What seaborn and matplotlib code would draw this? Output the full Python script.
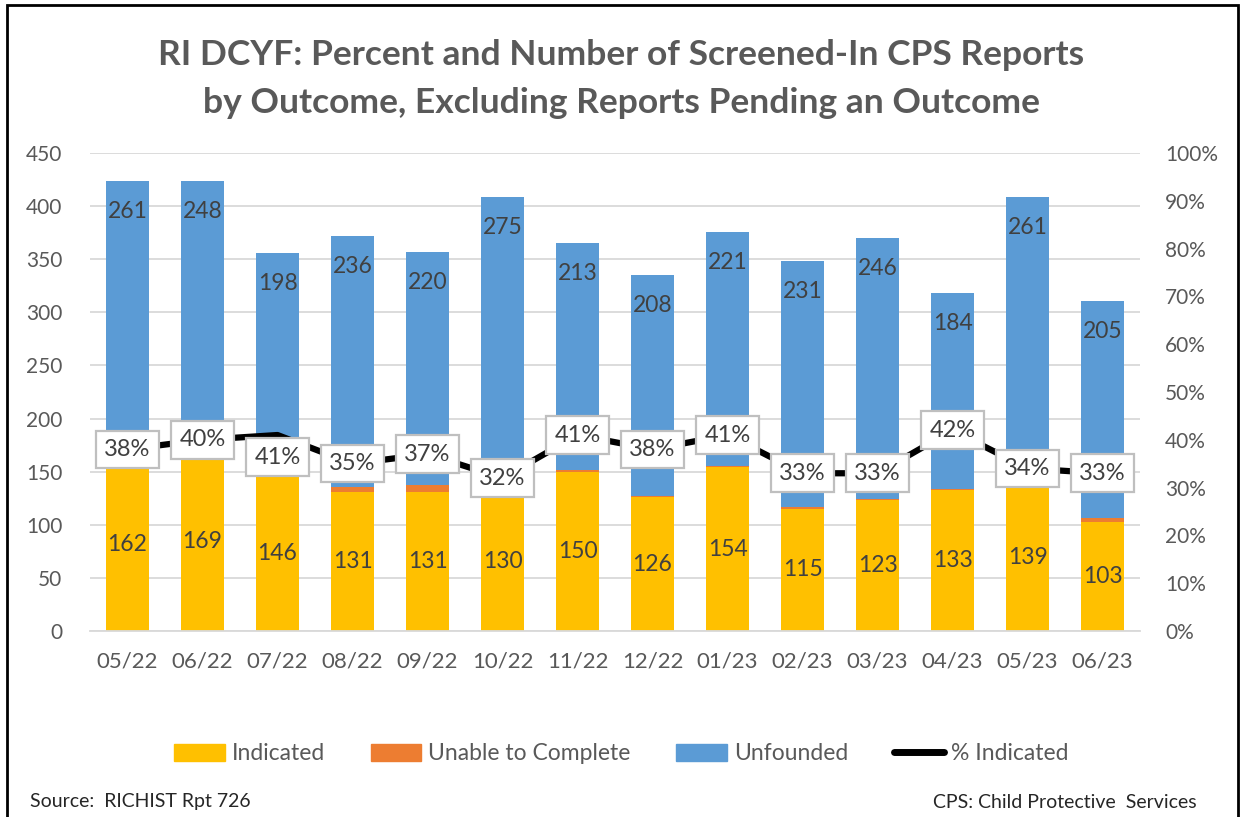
import numpy as np
import pandas as pd
import seaborn as sns
import matplotlib.pyplot as plt
from matplotlib.patches import Patch, Rectangle
from matplotlib.lines import Line2D

months = ['05/22', '06/22', '07/22', '08/22', '09/22', '10/22', '11/22',
          '12/22', '01/23', '02/23', '03/23', '04/23', '05/23', '06/23']
indicated = [162, 169, 146, 131, 131, 130, 150, 126, 154, 115, 123, 133, 139, 103]
unable = [1, 7, 12, 5, 6, 4, 2, 1, 1, 2, 1, 1, 9, 3]
unfounded = [261, 248, 198, 236, 220, 275, 213, 208, 221, 231, 246, 184, 261, 205]
pct_indicated = [38, 40, 41, 35, 37, 32, 41, 38, 41, 33, 33, 42, 34, 33]

YELLOW = '#FFC000'
ORANGE = '#ED7D31'
BLUE = '#5B9BD5'
GRAY = '#595959'
DARK = '#404040'

df = pd.DataFrame({'month': months, 'ind': indicated, 'unable': unable,
                   'unf': unfounded, 'pct': pct_indicated})
df['ind_unable'] = df['ind'] + df['unable']
df['total'] = df['ind_unable'] + df['unf']

sns.set_style('white')
plt.rcParams['font.family'] = ['Lato', 'DejaVu Sans']

fig = plt.figure(figsize=(12.43, 8.17), dpi=100)
ax = fig.add_axes([90 / 1243, 1 - 631 / 817, 1050 / 1243, 478 / 817])

# stacked look: draw totals first, then cover with the lower layers
W = 0.57
for col, c in [('total', BLUE), ('ind_unable', ORANGE), ('ind', YELLOW)]:
    sns.barplot(data=df, x='month', y=col, color=c, width=W, saturation=1,
                errorbar=None, linewidth=0, ax=ax)

ax.set_ylim(0, 450)
ax.set_yticks(range(0, 451, 50))
ax.set_xlim(-0.5, len(months) - 0.5)
ax.set_xlabel('')
ax.set_ylabel('')
ax.yaxis.grid(True, color='#d9d9d9', lw=1.3)
ax.set_axisbelow(True)
for s in ['top', 'left', 'right']:
    ax.spines[s].set_visible(False)
ax.spines['bottom'].set_color('#d9d9d9')
ax.spines['bottom'].set_linewidth(1.3)
ax.set_xticks(np.arange(-0.5, len(months), 1), minor=True)
ax.tick_params(axis='x', which='minor', length=7, color='#d9d9d9', width=1.3)
ax.tick_params(axis='x', which='major', length=0, pad=15, labelsize=16, labelcolor=GRAY)
ax.tick_params(axis='y', length=0, pad=20, labelsize=15, labelcolor=GRAY)

# labels: indicated centred, unfounded near the top of the bar
ax.bar_label(ax.containers[-1], labels=[str(v) for v in indicated],
             label_type='center', fontsize=16.5, color=DARK)
for i, (t, v) in enumerate(zip(df['total'], unfounded)):
    ax.annotate(str(v), (i, t), xytext=(0, -22), textcoords='offset points',
                ha='center', va='center', fontsize=16.5, color=DARK)

ax2 = ax.twinx()
sns.lineplot(data=df, x='month', y='pct', color='black', lw=4.5, sort=False, ax=ax2)
ax2.set_ylim(0, 100)
ax2.set_yticks(range(0, 101, 10))
ax2.set_yticklabels([f'{v}%' for v in range(0, 101, 10)])
ax2.set_ylabel('')
for s in ax2.spines.values():
    s.set_visible(False)
ax2.tick_params(axis='y', length=0, pad=18, labelsize=15, labelcolor=GRAY)

label_dy = {2: -16}
for i, p in enumerate(pct_indicated):
    ax2.annotate(f'{p}%', (i, p), xytext=(0, label_dy.get(i, 0)), textcoords='offset points',
                 ha='center', va='center', fontsize=17, color=DARK, zorder=5,
                 bbox=dict(boxstyle='square,pad=0.35', fc='white', ec='#bfbfbf', lw=1.6))

fig.text(0.5, 1 - 55 / 817, 'RI DCYF: Percent and Number of Screened-In CPS Reports',
         ha='center', va='center', fontsize=25.5, weight='bold', color=GRAY)
fig.text(0.5, 1 - 103 / 817, 'by Outcome, Excluding Reports Pending an Outcome',
         ha='center', va='center', fontsize=25.5, weight='bold', color=GRAY)

handles = [Patch(color=YELLOW), Patch(color=ORANGE), Patch(color=BLUE),
           Line2D([], [], color='black', lw=5)]
fig.legend(handles, ['Indicated', 'Unable to Complete', 'Unfounded', '% Indicated'],
           loc='center', bbox_to_anchor=(0.5, 1 - 754 / 817), ncol=4, frameon=False,
           fontsize=16.5, labelcolor=GRAY, handlelength=2.2, handleheight=0.75,
           handletextpad=0.3, columnspacing=2.0)

fig.text(30 / 1243, 1 - 802 / 817, 'Source:  RICHIST Rpt 726', va='center', fontsize=14)
fig.text(1197 / 1243, 1 - 803 / 817, 'CPS: Child Protective  Services', ha='right',
         va='center', fontsize=14)

fig.add_artist(Rectangle((7 / 1243, -0.01), 1231 / 1243, 1.0 - 5 / 817 + 0.01,
                         transform=fig.transFigure, fill=False, ec='black', lw=2))

fig.savefig('out.png', dpi=100)
